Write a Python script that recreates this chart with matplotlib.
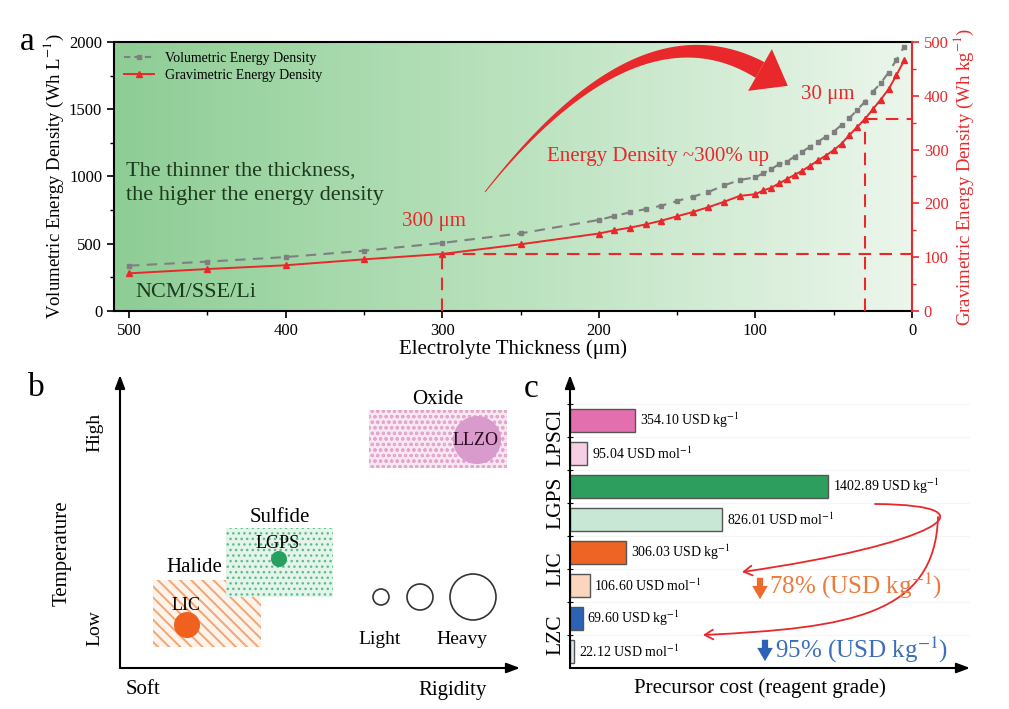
import numpy as np
import matplotlib
matplotlib.use("Agg")
import matplotlib.pyplot as plt
import matplotlib.transforms as mtransforms
from matplotlib.colors import LinearSegmentedColormap
from matplotlib.lines import Line2D
from matplotlib.patches import Rectangle, Circle, Polygon, FancyArrowPatch
from matplotlib.path import Path
from matplotlib.ticker import MultipleLocator

plt.rcParams["font.family"] = ["Liberation Serif", "DejaVu Serif"]
plt.rcParams["mathtext.fontset"] = "stix"

# ---- panel a: energy density vs electrolyte thickness ----
thickness = [500, 450, 400, 350, 300, 250, 200, 190, 180, 170, 160, 150, 140,
             130, 120, 110, 100, 95, 90, 85, 80, 75, 70, 65, 60, 55, 50, 45,
             40, 35, 30, 25, 20, 15, 10, 5]
volumetric = [337, 367, 401, 448, 506, 577, 677, 706, 734, 758, 783, 818, 850,
              885, 934, 974, 994, 1024, 1054, 1091, 1111, 1148, 1185, 1222,
              1259, 1296, 1334, 1383, 1433, 1495, 1557, 1631, 1693, 1773,
              1866, 1966]
gravimetric = [70, 78, 85, 96, 106, 124, 144, 150, 155, 161, 168, 176, 184,
               193, 203, 214, 217, 224, 229, 237, 245, 253, 261, 270, 280,
               289, 299, 311, 327, 342, 357, 375, 393, 412, 438, 466]
marked_thickness = [300, 30]

# ---- panel b: rigidity / temperature map ----
families = ["Halide", "Sulfide", "Oxide"]
family_rigidity = [(33, 141), (106, 213), (249, 387)]
family_temperature = [(21, 88), (71, 140), (200, 258)]
materials = ["LIC", "LGPS", "LLZO"]
material_rigidity = [67, 159, 357]
material_temperature = [43, 109, 228]
material_weight = [13, 8, 24]
scale_weights = [8, 13, 23]

# ---- panel c: precursor cost ----
cost_labels = ["354.10 USD kg$^{-1}$", "95.04 USD mol$^{-1}$",
               "1402.89 USD kg$^{-1}$", "826.01 USD mol$^{-1}$",
               "306.03 USD kg$^{-1}$", "106.60 USD mol$^{-1}$",
               "69.60 USD kg$^{-1}$", "22.12 USD mol$^{-1}$"]
cost_values = [354.10, 95.04, 1402.89, 826.01, 306.03, 106.60, 69.60, 22.12]
cost_groups = ["LPSCl", "LGPS", "LIC", "LZC"]
cost_colors = ["#e46fae", "#f7cfe3", "#2e9e5e", "#c9e7d5",
               "#ee6424", "#fbd5bd", "#2c62b5", "#dde8f5"]

RED = "#e8282b"
W, H = 1009, 709

fig = plt.figure(figsize=(W / 100, H / 100), dpi=100)
px = mtransforms.Affine2D().scale(1 / W, -1 / H).translate(0, 1) + fig.transFigure

# ================= panel a =================
ax = fig.add_axes([114 / W, 1 - 311 / H, 798 / W, 269 / H])
ax2 = ax.twinx()

cmap = LinearSegmentedColormap.from_list("bg", ["#8ecd95", "#bae2be", "#ecf6ec"])
ax.imshow(np.linspace(0, 1, 256).reshape(1, -1), cmap=cmap, extent=[0, 1, 0, 1],
          transform=ax.transAxes, aspect="auto", zorder=0)

ax.plot(thickness, volumetric, ls="--", color="#7f7f7f", lw=1.5, marker="s",
        ms=3.5, dashes=(5, 3.5), zorder=3)
ax2.plot(thickness, gravimetric, ls="-", color=RED, lw=1.4, marker="^", ms=5,
         zorder=3)

for t in marked_thickness:
    g = gravimetric[thickness.index(t)]
    ax2.plot([t, 0], [g, g], ls="--", color=RED, lw=1.5, dashes=(6, 4))
    ax2.plot([t, t], [0, g], ls="--", color=RED, lw=1.5, dashes=(6, 4))

ax.set_xlim(509.6, 0)
ax.set_ylim(0, 2000)
ax2.set_ylim(0, 500)
ax.xaxis.set_major_locator(MultipleLocator(100))
ax.xaxis.set_minor_locator(MultipleLocator(50))
ax.yaxis.set_major_locator(MultipleLocator(500))
ax.yaxis.set_minor_locator(MultipleLocator(250))
ax2.yaxis.set_major_locator(MultipleLocator(100))
ax2.yaxis.set_minor_locator(MultipleLocator(50))

for s in ax.spines.values():
    s.set_linewidth(1.5)
for s in ["left", "top", "bottom"]:
    ax2.spines[s].set_visible(False)
ax2.spines["right"].set_color(RED)
ax2.spines["right"].set_linewidth(1.5)
ax.spines["right"].set_visible(False)

ax.tick_params(which="major", direction="out", length=5, width=1.2, labelsize=12)
ax.tick_params(which="minor", direction="out", length=3, width=1.0)
ax2.tick_params(which="major", direction="out", length=5, width=1.2,
                labelsize=12, colors=RED)
ax2.tick_params(which="minor", direction="out", length=3, width=1.0, colors=RED)

ax.set_xlabel("Electrolyte Thickness (\u03bcm)", fontsize=15, labelpad=0)
ax.set_ylabel("Volumetric Energy Density (Wh L$^{-1}$)", fontsize=13.5, labelpad=2)
ax2.set_ylabel("Gravimetric Energy Density (Wh kg$^{-1}$)", fontsize=13.5,
               color=RED, labelpad=2)

handles = [Line2D([], [], color="#7f7f7f", ls="--", marker="s", ms=3.5, lw=1.5,
                  dashes=(3, 2)),
           Line2D([], [], color=RED, ls="-", marker="^", ms=5, lw=1.4)]
ax.legend(handles, ["Volumetric Energy Density", "Gravimetric Energy Density"],
          loc="upper left", frameon=False, fontsize=10, handlelength=2.2,
          borderaxespad=0.3, labelspacing=0.3, bbox_to_anchor=(0.0, 1.0))

ax.text(502, 950, "The thinner the thickness,\nthe higher the energy density",
        fontsize=16, color="#1c3a1c", va="center", ha="left", linespacing=1.4,
        zorder=4)
ax.text(496, 134, "NCM/SSE/Li", fontsize=16, color="#1c3a1c", va="center",
        ha="left", zorder=4)
ax.text(305, 669, "300 \u03bcm", fontsize=15, color=RED, va="center",
        ha="center", zorder=4)
ax.text(233, 1145, "Energy Density ~300% up", fontsize=15, color=RED,
        va="center", ha="left", zorder=4)
ax.text(71, 1606, "30 \u03bcm", fontsize=15, color=RED, va="center",
        ha="left", zorder=4)

# tapered curved arrow (pixel coordinates)
P0, P1, P2 = np.array([485, 192]), np.array([637, 0]), np.array([760, 70])
tt = np.linspace(0, 1, 80)[:, None]
curve = (1 - tt) ** 2 * P0 + 2 * (1 - tt) * tt * P1 + tt ** 2 * P2
deriv = 2 * (1 - tt) * (P1 - P0) + 2 * tt * (P2 - P1)
tang = deriv / np.linalg.norm(deriv, axis=1, keepdims=True)
norm = np.column_stack([-tang[:, 1], tang[:, 0]])
half = (0.5 + 8.5 * tt ** 1.2)
body = np.vstack([curve + norm * half, (curve - norm * half)[::-1]])
fig.patches.append(Polygon(body, closed=True, transform=px, color=RED, lw=0))
d = tang[-1]
n = norm[-1]
head = np.array([P2 + 32 * d, P2 + 24 * n, P2 - 24 * n])
fig.patches.append(Polygon(head, closed=True, transform=px, color=RED, lw=0))

fig.text(20, 42, "a", transform=px, fontsize=24, va="center", ha="left")

# ================= panel b =================
axb = fig.add_axes([120 / W, 1 - 668 / H, 400 / W, 293 / H])
axb.set_xlim(0, 400)
axb.set_ylim(0, 293)
axb.axis("off")

styles = [("#f2a674", "#fff4ec", "\\\\\\", 1.4),
          ("#5cbc88", "#e4f4ea", "...", 1.0),
          ("#e2a6cf", "#f8e6f1", "ooo", 0.8)]
label_offsets = [(-13, 13), (0, 11), (0, 10)]
for fam, xr, yr, st, off in zip(families, family_rigidity, family_temperature,
                                 styles, label_offsets):
    with plt.rc_context({"hatch.linewidth": st[3]}):
        axb.add_patch(Rectangle((xr[0], yr[0]), xr[1] - xr[0], yr[1] - yr[0],
                                facecolor=st[1], edgecolor=st[0], hatch=st[2],
                                lw=0, zorder=1))
    axb.text((xr[0] + xr[1]) / 2 + off[0], yr[1] + off[1], fam, fontsize=15,
             ha="center", va="center")

mat_colors = ["#f0601e", "#27a05f", "#d99bcb"]
mat_text_dy = [20, 15, -1]
for m, xr, yr, w, c, dy in zip(materials, material_rigidity,
                               material_temperature, material_weight,
                               mat_colors, mat_text_dy):
    axb.add_patch(Circle((xr, yr), w, color=c, zorder=2, lw=0))
    axb.text(xr - 1, yr + dy, m, fontsize=13, ha="center", va="center",
             color="#2a0a20" if m == "LLZO" else "black", zorder=3)

legend_x = [261, 300, 353]
for lx, w in zip(legend_x, scale_weights):
    axb.add_patch(Circle((lx, 71), w, facecolor="none", edgecolor="#333333",
                         lw=1.2))
axb.text(260, 28, "Light", fontsize=14, ha="center", va="center")
axb.text(342, 28, "Heavy", fontsize=14, ha="center", va="center")

arr = dict(arrowstyle="-|>,head_length=0.8,head_width=0.3", color="black",
           lw=1.5, shrinkA=0, shrinkB=0)
axb.annotate("", xy=(0, 293), xytext=(0, 0), arrowprops=arr, annotation_clip=False)
axb.annotate("", xy=(400, 0), xytext=(0, 0), arrowprops=arr, annotation_clip=False)
axb.text(-58, 115, "Temperature", fontsize=15, rotation=90, ha="center", va="center")
axb.text(-25, 236, "High", fontsize=14, rotation=90, ha="center", va="center")
axb.text(-25, 40, "Low", fontsize=14, rotation=90, ha="center", va="center")
axb.text(23, -22, "Soft", fontsize=15, ha="center", va="center")
axb.text(333, -22, "Rigidity", fontsize=15, ha="center", va="center")
fig.text(28, 388, "b", transform=px, fontsize=24, va="center", ha="left")

# ================= panel c =================
axc = fig.add_axes([570 / W, 1 - 668 / H, 400 / W, 293 / H])
ypos = np.arange(len(cost_values))[::-1] + 0.5
axc.barh(ypos, cost_values, height=0.69, color=cost_colors, edgecolor="#555555",
         lw=1.0, zorder=2)
for y, v, lab in zip(ypos, cost_values, cost_labels):
    axc.text(v + 25, y, lab, fontsize=10, va="center", ha="left")
axc.set_xlim(0, 2175)
axc.set_ylim(0, 8.88)
for s in axc.spines.values():
    s.set_visible(False)
axc.set_xticks([])
axc.set_yticks(np.arange(1, 9))
axc.tick_params(axis="y", direction="inout", length=4, width=0.8, labelleft=False)
for k in range(1, 9):
    axc.axhline(k, color="#f5f5f5", lw=0.8, zorder=0)
axc.annotate("", xy=(0, 1.0), xytext=(0, 0), xycoords="axes fraction",
             arrowprops=arr, annotation_clip=False)
axc.annotate("", xy=(1.0, 0), xytext=(0, 0), xycoords="axes fraction",
             arrowprops=arr, annotation_clip=False)
blend = mtransforms.blended_transform_factory(axc.transAxes, axc.transData)
for i, g in enumerate(cost_groups):
    axc.text(-0.035, ypos[2 * i] - 0.5, g, transform=blend, fontsize=15.5,
             rotation=90, ha="center", va="center")
axc.text(0.475, -0.068, "Precursor cost (reagent grade)", transform=axc.transAxes,
         fontsize=15, ha="center", va="center")

p1 = Path([(875, 504), (1005, 505), (930, 545), (742, 572)],
          [Path.MOVETO, Path.CURVE4, Path.CURVE4, Path.CURVE4])
p2 = Path([(938, 517), (935, 615), (850, 628), (703, 635)],
          [Path.MOVETO, Path.CURVE4, Path.CURVE4, Path.CURVE4])
for p in [p1, p2]:
    fig.patches.append(FancyArrowPatch(path=p, transform=px, color=RED, lw=1.3,
                                       arrowstyle="->,head_length=6,head_width=3.5"))

simple = "simple,head_width=0.7,head_length=0.6,tail_width=0.28"
fig.patches.append(FancyArrowPatch((760, 575), (760, 602), transform=px,
                                   arrowstyle=simple, mutation_scale=16,
                                   color="#ee6a2a", lw=0))
fig.patches.append(FancyArrowPatch((765, 637), (765, 664), transform=px,
                                   arrowstyle=simple, mutation_scale=16,
                                   color="#2c62b5", lw=0))
fig.text(769, 586, "78% (USD kg$^{-1}$)", transform=px, fontsize=18,
         color="#ec7a3c", va="center", ha="left")
fig.text(775, 650, "95% (USD kg$^{-1}$)", transform=px, fontsize=18,
         color="#3b6fba", va="center", ha="left")
fig.text(524, 389, "c", transform=px, fontsize=24, va="center", ha="left")

fig.savefig("out.png", dpi=100)
